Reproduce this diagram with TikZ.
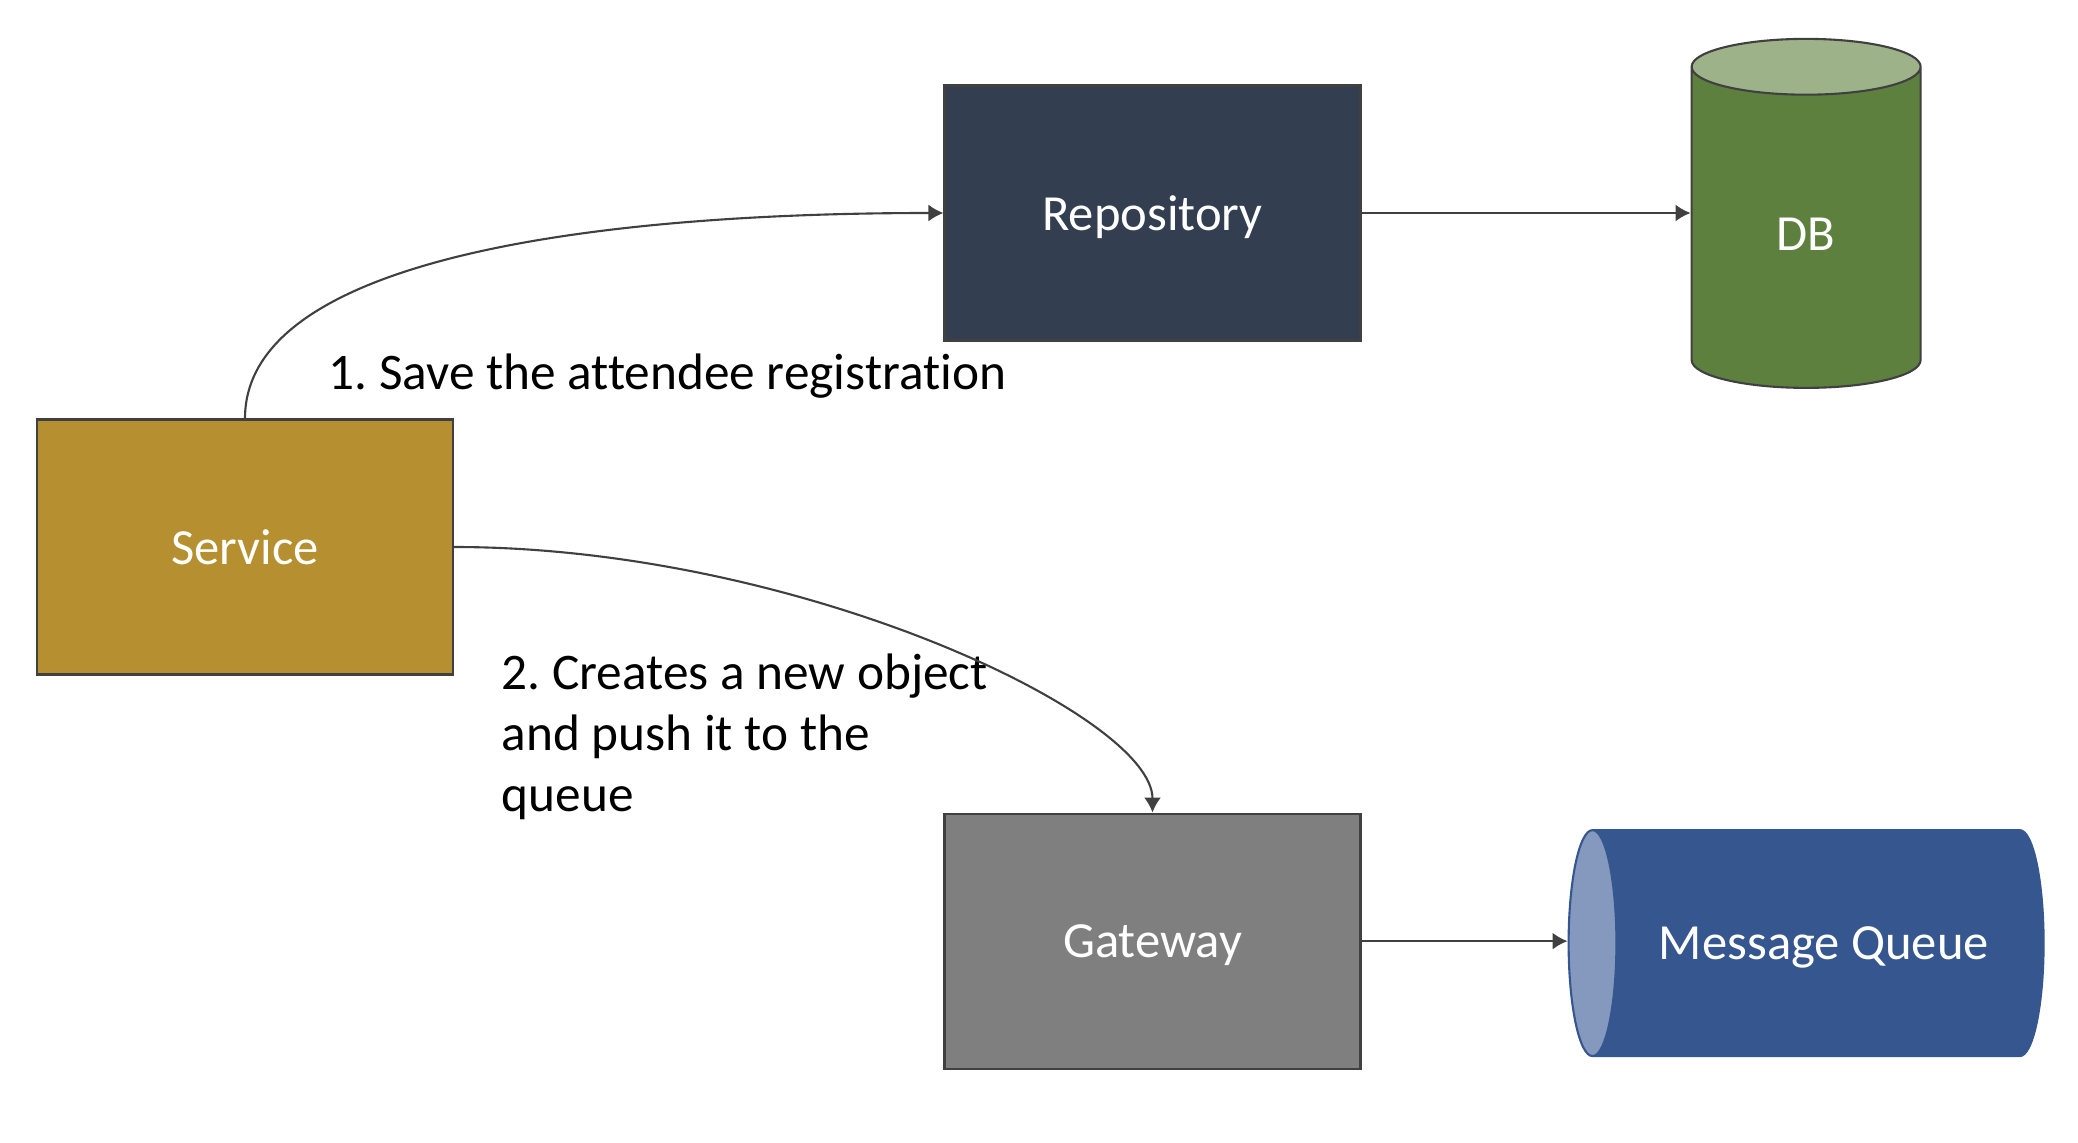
\documentclass[tikz,border=0pt]{standalone}
\usepackage{fontspec}
\setmainfont{Carlito}[Ligatures=NoCommon]
\usetikzlibrary{shapes.geometric, arrows.meta, positioning}

\definecolor{repoblue}{HTML}{333F50}
\definecolor{svcgold}{HTML}{B68F31}
\definecolor{gwgray}{HTML}{7F7F7F}
\definecolor{dbgreen}{HTML}{5E803F}
\definecolor{dbtop}{HTML}{9EB28A}
\definecolor{mqblue}{HTML}{36568F}
\definecolor{mqend}{HTML}{8598BE}
\definecolor{edgegray}{HTML}{404040}

\begin{document}
\frenchspacing
\begin{tikzpicture}[node distance=2cm, auto, font=\fontsize{14.4}{17.3}\selectfont,
    block/.style={draw=edgegray, line width=0.6pt, rectangle, minimum width=4.16cm, minimum height=2.55cm, text=white, text depth=0pt},
    store/.style={cylinder, line width=0.6pt, text=white, text depth=0pt, cylinder uses custom fill},
    note/.style={inner sep=0pt, anchor=west, font=\fontsize{14.6}{17.3}\selectfont},
    flow/.style={-{Latex[length=1.5mm,width=1.7mm]}, draw=edgegray, line width=0.6pt}]
    \useasboundingbox (0,0) rectangle (20.78,11.42);
    % Components
    \node[block, fill=svcgold] (Service) at (2.45,5.95) {Service};
    \node[block, fill=repoblue] (Repo) at (11.525,9.29) {Repository};
    \node[block, fill=gwgray, below=4.71cm of Repo] (Gateway) {Gateway};
    \node[store, draw=edgegray, shape border rotate=90, aspect=0.68, minimum width=2.29cm, minimum height=3.49cm, cylinder body fill=dbgreen, cylinder end fill=dbtop, right=3.29cm of Repo, yshift=-0.21cm] (DB) {DB};
    \node[store, draw=mqblue, shape border rotate=180, aspect=0.85, minimum width=2.26cm, minimum height=4.75cm, cylinder body fill=mqblue, cylinder end fill=mqend, right=2.06cm of Gateway, yshift=-0.02cm] (MQ) {Message Queue};

    % Labels
    \node[note] (SaveLbl) at (3.28,7.66) {1. Save the attendee registration};
    \node[note, align=left] (PushLbl) at (5.01,4.05) {2. Creates a new object\\and push it to the\\queue};

    % Connectors
    \draw[flow] (Service.north) .. controls +(0,1.6) and +(-3.5,0) .. (Repo.west);
    \draw[flow] (Repo.east) -- (Repo.east -| DB.west);
    \draw[flow] (Service.east) .. controls +(3.44,0) and +(0,0.97) .. (Gateway.north);
    \draw[flow] (Gateway.east) -- (Gateway.east -| MQ.west);
\end{tikzpicture}
\end{document}
